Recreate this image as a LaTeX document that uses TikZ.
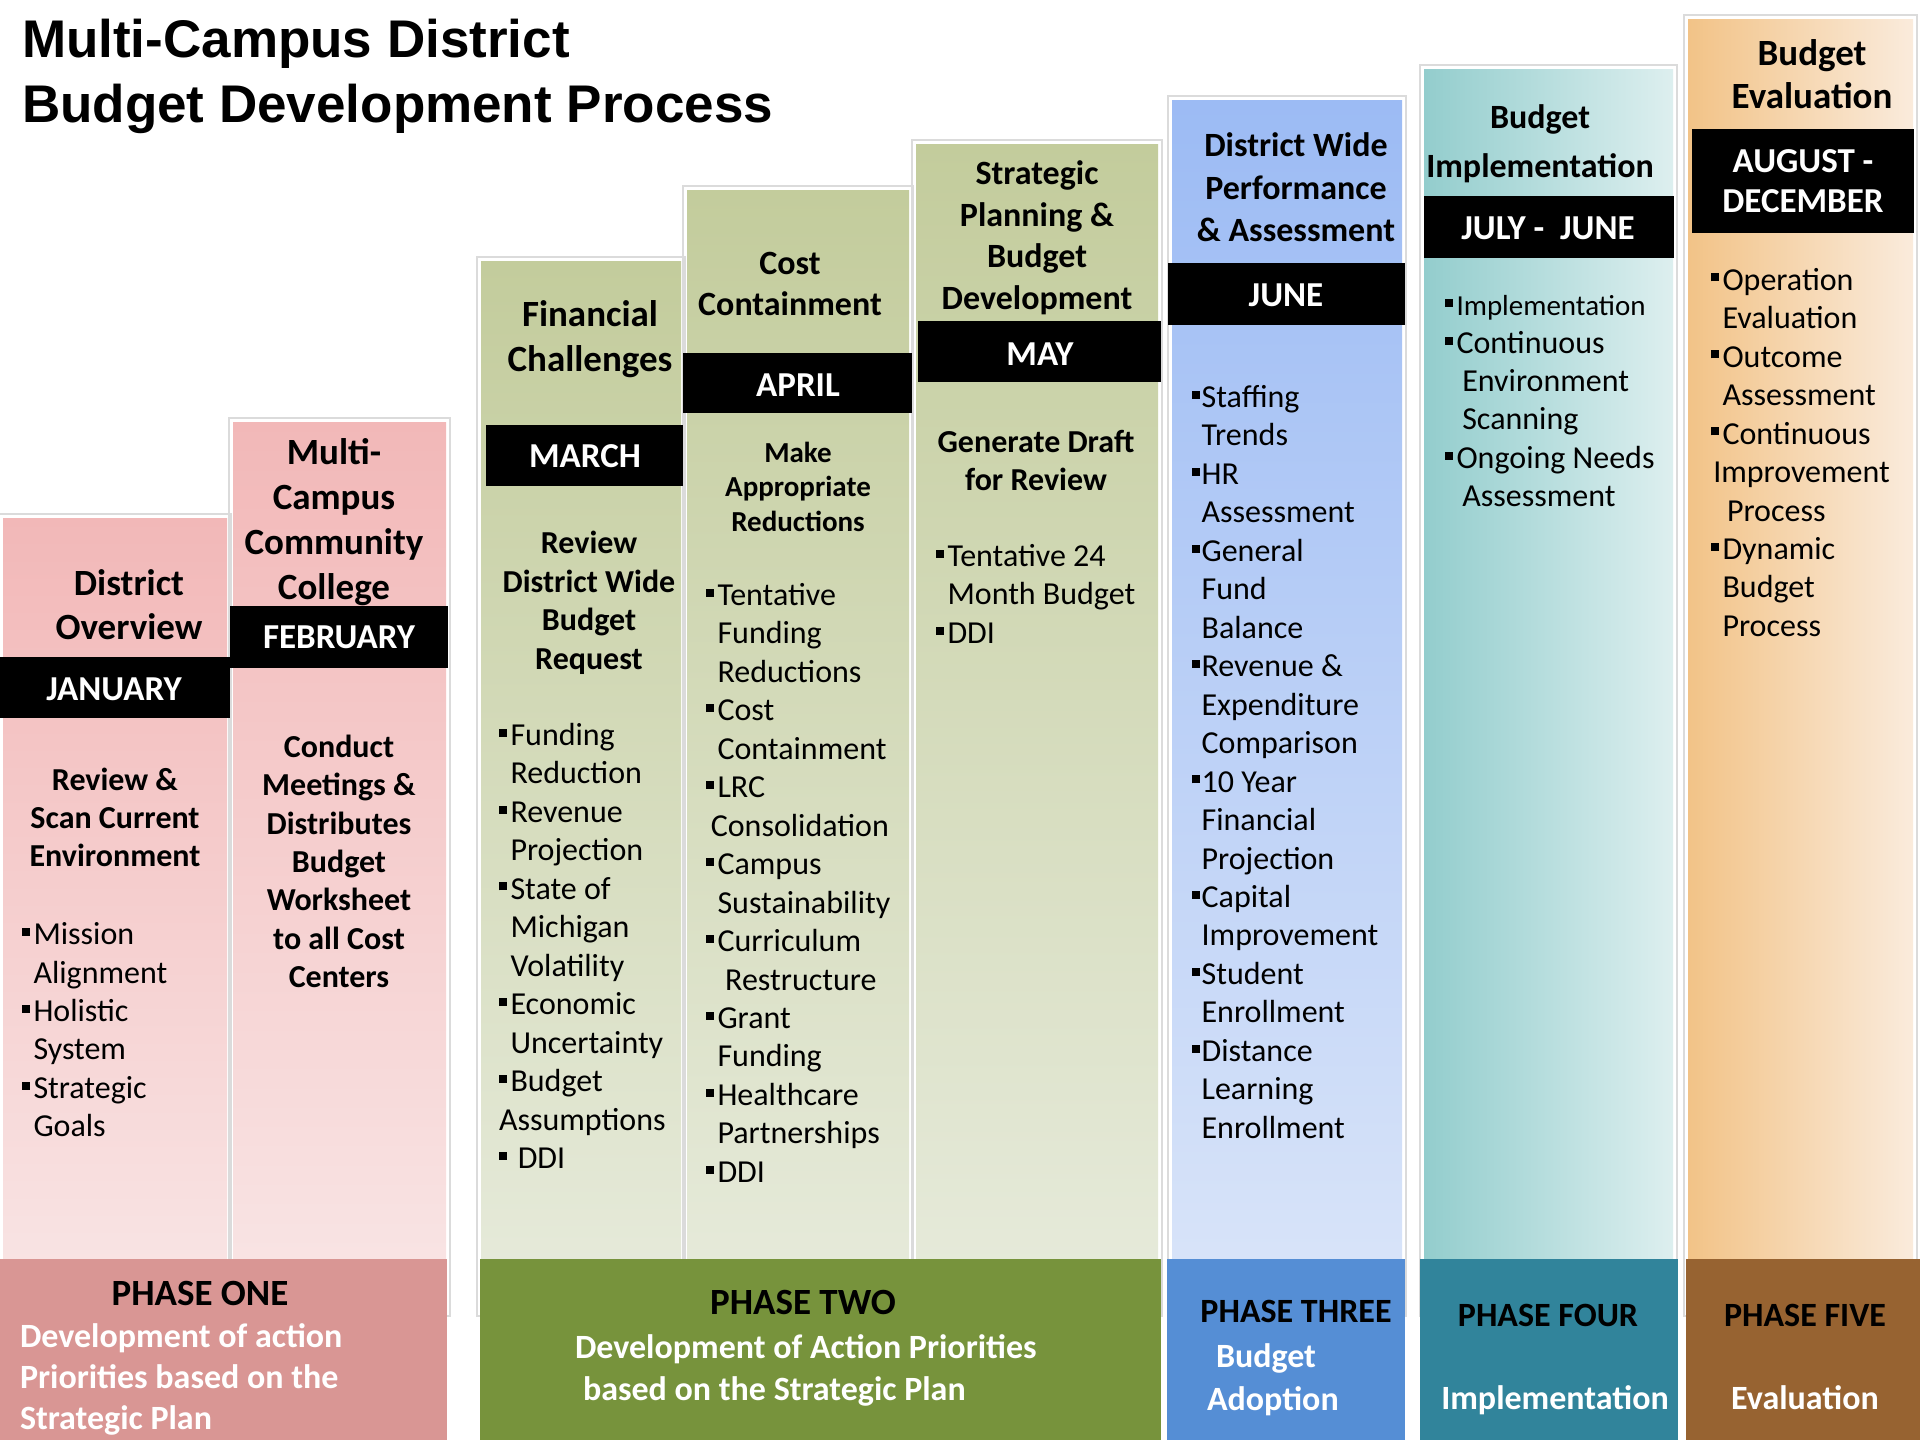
\documentclass[tikz,border=0pt]{standalone}
\usepackage{fontspec}
\setmainfont{Carlito}
\newfontfamily\titlefont{Liberation Sans}

\definecolor{pinkT}{HTML}{F2B8B8}
\definecolor{pinkB}{HTML}{F9E6E6}
\definecolor{greenT}{HTML}{C3CC9C}
\definecolor{greenB}{HTML}{E7EBDC}
\definecolor{blueT}{HTML}{9CBBF4}
\definecolor{blueB}{HTML}{DAE5F9}
\definecolor{tealL}{HTML}{93CDCD}
\definecolor{tealR}{HTML}{DDEFEF}
\definecolor{orangeL}{HTML}{F2C387}
\definecolor{orangeR}{HTML}{FAEBDC}
\definecolor{phOne}{HTML}{D99694}
\definecolor{phTwo}{HTML}{77933C}
\definecolor{phThree}{HTML}{558ED5}
\definecolor{phFour}{HTML}{31849B}
\definecolor{phFive}{HTML}{976331}

% square bullet and matching hanging indent
\newcommand\bul{\makebox[0.36em][l]{\raisebox{0.27em}{\rule{0.25em}{0.25em}}}}
\newcommand\ind{\hspace*{0.36em}}

\tikzset{
  base/.style={inner sep=0pt, outer sep=0pt},
  blk/.style={base, execute at begin node=\strut, execute at end node=\strut},
  head/.style={blk, align=center, font=\bfseries\fontsize{18.5}{22.5}\selectfont},
  headsm/.style={blk, align=center, font=\bfseries\fontsize{17}{20.8}\selectfont},
  sub/.style={blk, align=center, font=\bfseries\fontsize{16}{19.2}\selectfont},
  body/.style={blk, align=left, anchor=west, font=\fontsize{16}{19.24}\selectfont},
  monthbar/.style={base, fill=black, text=white, align=center,
    font=\bfseries\fontsize{17.5}{20.2}\selectfont},
  monthtxt/.style={base, anchor=base, text=white,
    font=\bfseries\fontsize{17.5}{20.2}\selectfont},
  phasehead/.style={base, font=\bfseries\fontsize{17}{20}\selectfont},
  phasetxt/.style={blk, text=white, align=left, anchor=west,
    font=\bfseries\fontsize{17}{20.5}\selectfont},
  frame/.style={draw=black!14, line width=1pt},
}

\begin{document}
\begin{tikzpicture}[x=0.5pt, y=-0.5pt]
\useasboundingbox (0,0) rectangle (1920,1440);
\fill[white] (0,0) rectangle (1920,1440);

% ---- column frames ----
\draw[frame] (-4,514) rectangle (231,1316);
\draw[frame] (229,418) rectangle (450,1316);
\draw[frame] (477,257) rectangle (685,1316);
\draw[frame] (683,186) rectangle (913,1316);
\draw[frame] (912,140) rectangle (1162,1316);
\draw[frame] (1168,96) rectangle (1406,1316);
\draw[frame] (1420,65) rectangle (1677,1316);
\draw[frame] (1684,15) rectangle (1917,1316);

% ---- column fills ----
\fill[top color=pinkT, bottom color=pinkB] (3,518) rectangle (227,1310);
\fill[top color=pinkT, bottom color=pinkB] (233,422) rectangle (446,1310);
\fill[top color=greenT, bottom color=greenB] (481,261) rectangle (681,1310);
\fill[top color=greenT, bottom color=greenB] (687,190) rectangle (909,1310);
\fill[top color=greenT, bottom color=greenB] (916,144) rectangle (1158,1310);
\fill[top color=blueT, bottom color=blueB] (1172,100) rectangle (1402,1310);
\fill[left color=tealL, right color=tealR] (1424,69) rectangle (1673,1310);
\fill[left color=orangeL, right color=orangeR] (1688,19) rectangle (1913,1310);

% ---- month bars ----
\node[monthbar, minimum width=115pt, minimum height=30.5pt] (jan) at (115,687.5) {};
\node[monthbar, minimum width=109pt, minimum height=31pt] (feb) at (339,637) {};
\node[monthbar, minimum width=98.5pt, minimum height=30.5pt] (mar) at (584.5,455.5) {};
\node[monthbar, minimum width=114.5pt, minimum height=30pt] (apr) at (797.5,383) {};
\node[monthbar, minimum width=121.5pt, minimum height=30.5pt] (may) at (1039.5,351.5) {};
\node[monthbar, minimum width=118.5pt, minimum height=31pt] (jun) at (1286.5,294) {};
\node[monthbar, minimum width=125pt, minimum height=31pt] (jul) at (1549,227) {};
\node[monthbar, minimum width=111pt, minimum height=52pt] (aug) at (1803,181) {AUGUST -\\DECEMBER};

\node[monthtxt] (janT) at (114,700.5) {JANUARY};
\node[monthtxt] (febT) at (339,648) {FEBRUARY};
\node[monthtxt] (marT) at (585,467) {MARCH};
\node[monthtxt] (aprT) at (798,396) {APRIL};
\node[monthtxt] (mayT) at (1040,365) {MAY};
\node[monthtxt] (junT) at (1286,306.5) {JUNE};
\node[monthtxt] (julT) at (1548,239) {JULY -~ JUNE};

% ---- column 1 ----
\node[head, font=\bfseries\fontsize{18.5}{22}\selectfont] (h1) at (129,611) {District\\Overview};
\node[sub] (s1) at (115,823) {Review \&\\Scan Current\\Environment};
\node[body] (b1) at (22,1035.5) {\bul Mission\\\ind Alignment\\\bul Holistic\\\ind System\\\bul Strategic\\\ind Goals};

% ---- column 2 ----
\node[head] (h2) at (334,526) {Multi-\\Campus\\Community\\College};
\node[sub] (s2) at (339,867) {Conduct\\Meetings \&\\Distributes\\Budget\\Worksheet\\to all Cost\\Centers};

% ---- column 3 ----
\node[head, font=\bfseries\fontsize{18.5}{22.6}\selectfont] (h3) at (590,343) {Financial\\Challenges};
\node[sub] (s3) at (589,606) {Review\\District Wide\\Budget\\Request};
\node[body] (b3) at (499,951.5) {\bul Funding\\\ind Reduction\\\bul Revenue\\\ind Projection\\\bul State of\\\ind Michigan\\\ind Volatility\\\bul Economic\\\ind Uncertainty\\\bul Budget\\Assumptions\\\bul\ DDI};

% ---- column 4 ----
\node[headsm, font=\bfseries\fontsize{17}{20.2}\selectfont] (h4) at (790,290) {Cost\\Containment};
\node[sub, font=\bfseries\fontsize{14.5}{17.45}\selectfont] (s4) at (798,492) {Make\\Appropriate\\Reductions};
\node[body] (b4) at (706,888.5) {\bul Tentative\\\ind Funding\\\ind Reductions\\\bul Cost\\\ind Containment\\\bul LRC\\\hspace*{0.15em}Consolidation\\\bul Campus\\\ind Sustainability\\\bul Curriculum\\\hspace*{0.6em}Restructure\\\bul Grant\\\ind Funding\\\bul Healthcare\\\ind Partnerships\\\bul DDI};

% ---- column 5 ----
\node[headsm] (h5) at (1037,241.5) {Strategic\\Planning \&\\Budget\\Development};
\node[sub] (s5) at (1036,466) {Generate Draft\\for Review};
\node[body] (b5) at (936,599.5) {\bul Tentative 24\\\ind Month Budget\\\bul DDI};

% ---- column 6 ----
\node[headsm, font=\bfseries\fontsize{17}{21.1}\selectfont] (h6) at (1296,193.5) {District Wide\\Performance\\\& Assessment};
\node[body] (b6) at (1192,767.5) {\bul\hspace*{-0.06em}Staffing\\\hspace*{0.3em}Trends\\\bul\hspace*{-0.06em}HR\\\hspace*{0.3em}Assessment\\\bul\hspace*{-0.06em}General\\\hspace*{0.3em}Fund\\\hspace*{0.3em}Balance\\\bul\hspace*{-0.06em}Revenue \&\\\hspace*{0.3em}Expenditure\\\hspace*{0.3em}Comparison\\\bul\hspace*{-0.06em}10 Year\\\hspace*{0.3em}Financial\\\hspace*{0.3em}Projection\\\bul\hspace*{-0.06em}Capital\\\hspace*{0.3em}Improvement\\\bul\hspace*{-0.06em}Student\\\hspace*{0.3em}Enrollment\\\bul\hspace*{-0.06em}Distance\\\hspace*{0.3em}Learning\\\hspace*{0.3em}Enrollment};

% ---- column 7 ----
\node[headsm, font=\bfseries\fontsize{17}{24.5}\selectfont] (h7) at (1540,148) {Budget\\Implementation};
\node[body, font=\fontsize{16}{19.1}\selectfont] (b7) at (1445,406.5) {\bul{\fontsize{14.5}{19.1}\selectfont Implementation}\\\bul Continuous\\\hspace*{0.54em}Environment\\\hspace*{0.54em}Scanning\\\bul Ongoing Needs\\\hspace*{0.54em}Assessment};

% ---- column 8 ----
\node[head, font=\bfseries\fontsize{18.5}{21.4}\selectfont] (h8) at (1812,80.5) {Budget\\Evaluation};
\node[body] (b8) at (1711,458) {\bul Operation\\\ind Evaluation\\\bul Outcome\\\ind Assessment\\\bul Continuous\\\hspace*{0.07em}Improvement\\\hspace*{0.5em}Process\\\bul Dynamic\\\ind Budget\\\ind Process};

% ---- phase boxes ----
\fill[phOne] (0,1259) rectangle (447,1440);
\fill[phTwo] (480,1259) rectangle (1161,1440);
\fill[phThree] (1167,1259) rectangle (1405,1440);
\fill[phFour] (1420,1259) rectangle (1678,1440);
\fill[phFive] (1686,1259) rectangle (1920,1440);

\node[phasehead, font=\bfseries\fontsize{18.5}{20}\selectfont] (p1) at (200,1293) {PHASE ONE};
\node[phasetxt] (p1t) at (20,1383) {Development of action\\Priorities based on the\\Strategic Plan};

\node[phasehead, font=\bfseries\fontsize{18.5}{20}\selectfont] (p2) at (803,1302) {PHASE TWO};
\node[phasetxt] (p2a) at (575,1350) {Development of Action Priorities};
\node[phasetxt] (p2b) at (583,1392) {based on the Strategic Plan};

\node[phasehead] (p3) at (1296,1311) {PHASE THREE};
\node[phasetxt] (p3a) at (1216,1359) {Budget};
\node[phasetxt] (p3b) at (1207,1402) {Adoption};

\node[phasehead] (p4) at (1548,1315) {PHASE FOUR};
\node[phasetxt, anchor=center] (p4t) at (1555,1401) {Implementation};

\node[phasehead] (p5) at (1805,1315) {PHASE FIVE};
\node[phasetxt, anchor=center] (p5t) at (1805,1401) {Evaluation};

% ---- title ----
\node[blk, align=left, anchor=west, font=\titlefont\bfseries\fontsize{26.5}{32.5}\selectfont] (title) at (22,81) {Multi-Campus District\\Budget Development Process};
\end{tikzpicture}
\end{document}
